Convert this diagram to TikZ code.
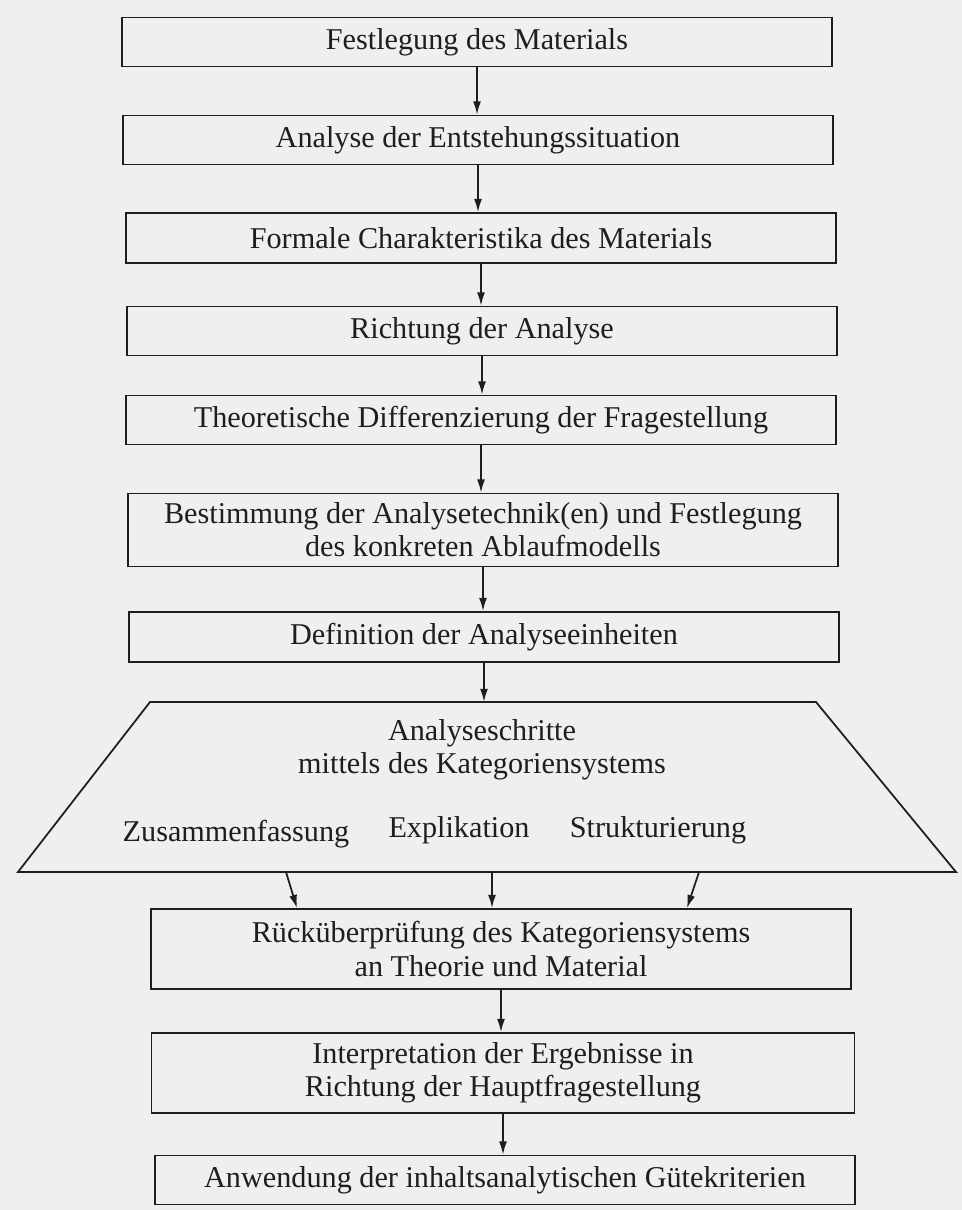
\documentclass[tikz,border=0pt]{standalone}
\usepackage{fontspec}
\setmainfont{Liberation Serif}
\usetikzlibrary{arrows.meta,calc}
\definecolor{paper}{RGB}{239,239,239}
\definecolor{ink}{RGB}{30,30,30}
\begin{document}
\begin{tikzpicture}[x=0.02cm,y=-0.02cm,
  stepbox/.style={draw=ink, line width=1pt, minimum width=14.2cm, minimum height=0.98cm,
    inner sep=0pt, align=center, text=ink, font=\fontsize{17.2}{18.8}\selectfont},
  lbl/.style={inner sep=0pt, align=center, text=ink, font=\fontsize{17.2}{18.8}\selectfont},
  arr/.style={draw=ink, line width=1pt, -{Latex[length=7.5pt,width=4.5pt]}},
  trap/.style={draw=ink, line width=1pt, line join=miter}]
\fill[paper] (0,0) rectangle (962,1210);
\useasboundingbox (0,0) rectangle (962,1210);

\node[stepbox] (b1) at (477,42) {Festlegung des Materials};
\node[stepbox] (b2) at (478,140) {Analyse der Entstehungssituation};
\node[stepbox, minimum height=1.0cm] (b3) at (481,238) {Formale Charakteristika des Materials};
\node[stepbox] (b4) at (482,331) {Richtung der Analyse};
\node[stepbox] (b5) at (481,420) {Theoretische Differenzierung der Fragestellung};
\node[stepbox, minimum height=1.46cm] (b6) at (483,530) {Bestimmung der Analysetechnik(en) und Festlegung\\des konkreten Ablaufmodells};
\node[stepbox, minimum height=1.0cm] (b7) at (484,637) {Definition der Analyseeinheiten};

% trapezoid
\coordinate (tTL) at (150,702);
\coordinate (tTR) at (816,702);
\coordinate (tBR) at (956,872);
\coordinate (tBL) at (18,872);
\draw[trap] (tTL) -- (tTR) -- (tBR) -- (tBL) -- cycle;
\node[lbl] (tt) at (482,750) {Analyseschritte\\mittels des Kategoriensystems};
\node[lbl] (z1) at (236,834) {Zusammenfassung};
\node[lbl] (z2) at (459,830) {Explikation};
\node[lbl] (z3) at (658,830) {Strukturierung};

\node[stepbox, minimum width=14.0cm, minimum height=1.6cm] (b8) at (501,949) {Rücküberprüfung des Kategoriensystems\\an Theorie und Material};
\node[stepbox, minimum width=14.06cm, minimum height=1.6cm] (b9) at (503,1073) {Interpretation der Ergebnisse in\\Richtung der Hauptfragestellung};
\node[stepbox, minimum width=14.0cm] (b10) at (505,1180) {Anwendung der inhaltsanalytischen Gütekriterien};

% connectors
\draw[arr] (b1.south) -- (b1.south |- b2.north);
\draw[arr] (b2.south) -- (b2.south |- b3.north);
\draw[arr] (b3.south) -- (b3.south |- b4.north);
\draw[arr] (b4.south) -- (b4.south |- b5.north);
\draw[arr] (b5.south) -- (b5.south |- b6.north);
\draw[arr] (b6.south) -- (b6.south |- b7.north);
\coordinate (tIn) at (b7.south |- tTL);
\draw[arr] (b7.south) -- (tIn);

\coordinate (oL) at (286,872);
\coordinate (oM) at (492,872);
\coordinate (oR) at (699,872);
\coordinate (iL) at (297,909);
\coordinate (iR) at (687,909);
\draw[arr] (oL) -- (iL |- b8.north);
\draw[arr] (oM) -- (oM |- b8.north);
\draw[arr] (oR) -- (iR |- b8.north);

\draw[arr] (b8.south) -- (b8.south |- b9.north);
\draw[arr] (b9.south) -- (b9.south |- b10.north);
\end{tikzpicture}
\end{document}
